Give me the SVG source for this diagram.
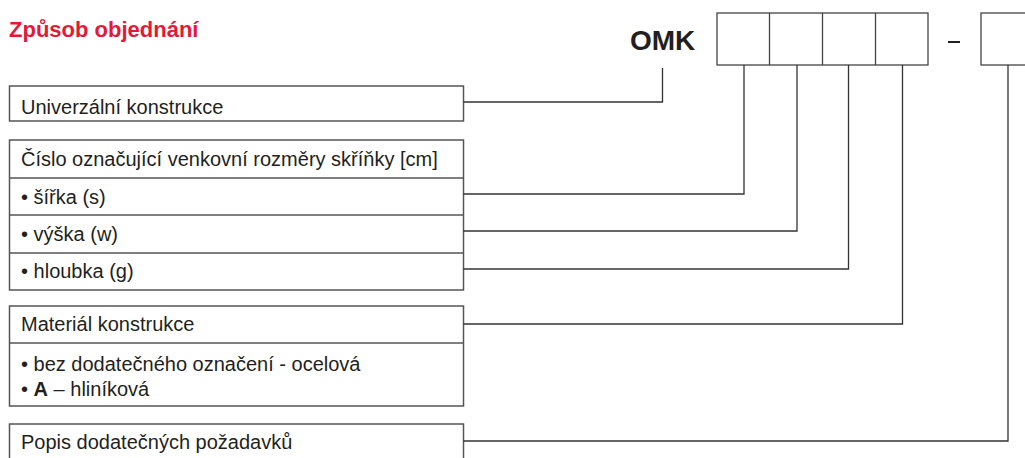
<svg xmlns="http://www.w3.org/2000/svg" width="1025" height="458" viewBox="0 0 1025 458">
<style>
.bg{fill:#ffffff}
.box{fill:none;stroke:#555555;stroke-width:1.5}
.cell{fill:none;stroke:#444444;stroke-width:1.3}
.div{stroke:#555555;stroke-width:1.5}
.con{fill:none;stroke:#333333;stroke-width:1.3}
.t{font-family:"Liberation Sans",Arial,sans-serif;font-size:20px;fill:#231f20}
.b{font-weight:bold}
.title{font-family:"Liberation Sans",Arial,sans-serif;font-size:22px;font-weight:bold;fill:#e31937}
.omk{font-family:"Liberation Sans",Arial,sans-serif;font-size:28px;font-weight:bold;fill:#231f20}
</style>
<rect class="bg" x="0" y="0" width="1025" height="458"/>
<g id="title">
<text class="title" x="9" y="37">Způsob objednání</text>
</g>
<g id="code">
<text class="omk" x="630" y="50">OMK</text>
<rect class="cell" x="717" y="13" width="211" height="52"/>
<line class="cell" x1="769.5" y1="13" x2="769.5" y2="65"/>
<line class="cell" x1="822.5" y1="13" x2="822.5" y2="65"/>
<line class="cell" x1="875.5" y1="13" x2="875.5" y2="65"/>
<line x1="948" y1="42" x2="960" y2="42" stroke="#231f20" stroke-width="2"/>
<rect class="cell" x="981" y="13" width="60" height="52"/>
</g>
<g id="node-univ">
<rect class="box" x="9.5" y="86" width="454" height="35"/>
<text class="t" x="21" y="114">Univerzální konstrukce</text>
</g>
<g id="node-cislo">
<rect class="box" x="9.5" y="140" width="454" height="150"/>
<line class="div" x1="9.5" y1="178" x2="463.5" y2="178"/>
<line class="div" x1="9.5" y1="215" x2="463.5" y2="215"/>
<line class="div" x1="9.5" y1="253" x2="463.5" y2="253"/>
<text class="t" x="21" y="166">Číslo označující venkovní rozměry skříňky [cm]</text>
<text class="t" x="21" y="204">• šířka (s)</text>
<text class="t" x="21" y="241">• výška (w)</text>
<text class="t" x="21" y="278">• hloubka (g)</text>
</g>
<g id="node-material">
<rect class="box" x="9.5" y="306" width="454" height="100"/>
<line class="div" x1="9.5" y1="343" x2="463.5" y2="343"/>
<text class="t" x="21" y="331">Materiál konstrukce</text>
<text class="t" x="21" y="371">• bez dodatečného označení - ocelová</text>
<text class="t" x="21" y="396">• <tspan class="b">A</tspan> – hliníková</text>
</g>
<g id="node-popis">
<rect class="box" x="9.5" y="424" width="454" height="45"/>
<text class="t" x="21" y="449">Popis dodatečných požadavků</text>
</g>
<g id="connectors">
<polyline class="con" points="463.5,102 662.5,102 662.5,68"/>
<polyline class="con" points="463.5,194 744,194 744,65"/>
<polyline class="con" points="463.5,231 797,231 797,65"/>
<polyline class="con" points="463.5,269 848.5,269 848.5,65"/>
<polyline class="con" points="463.5,324 902.5,324 902.5,65"/>
<polyline class="con" points="463.5,441 1008,441 1008,65"/>
</g>
</svg>
